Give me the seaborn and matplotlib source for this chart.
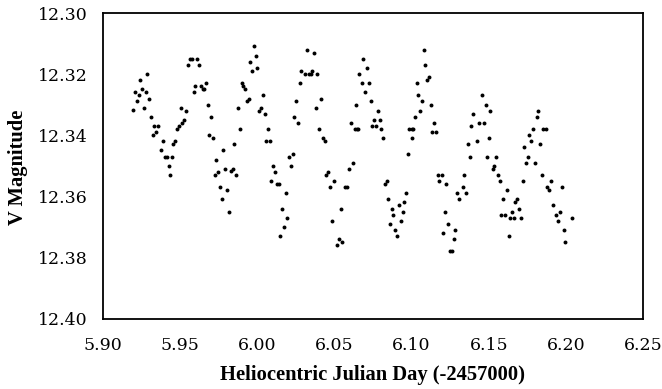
import matplotlib
matplotlib.use("Agg")
import matplotlib.pyplot as plt
import seaborn as sns
import pandas as pd

hjd = [
    5.9194, 5.9207, 5.9220, 5.9233, 5.9242, 5.9255, 5.9266, 5.9277, 5.9287, 5.9298,
    5.9311, 5.9322, 5.9332, 5.9345, 5.9358, 5.9378, 5.9391, 5.9404, 5.9417, 5.9426,
    5.9436, 5.9449, 5.9456, 5.9469, 5.9482, 5.9493, 5.9506, 5.9514, 5.9527, 5.9540,
    5.9549, 5.9562, 5.9575, 5.9588, 5.9598, 5.9609, 5.9622, 5.9635, 5.9646, 5.9657,
    5.9668, 5.9679, 5.9689, 5.9700, 5.9713, 5.9724, 5.9734, 5.9747, 5.9758, 5.9771,
    5.9780, 5.9791, 5.9804, 5.9815,
    5.9830, 5.9841, 5.9864, 5.9851, 5.9873, 5.9886, 5.9899, 5.9909, 5.9918, 5.9931,
    5.9944, 5.9955, 5.9966, 5.9977, 5.9990, 6.0000, 6.0011, 6.0022, 6.0035, 6.0048,
    6.0056, 6.0069, 6.0080, 6.0091, 6.0102, 6.0115, 6.0126, 6.0141, 6.0147, 6.0160,
    6.0171, 6.0184, 6.0195, 6.0206, 6.0218, 6.0229, 6.0240, 6.0253, 6.0264, 6.0277,
    6.0285, 6.0309, 6.0322, 6.0333, 6.0346, 6.0357, 6.0370, 6.0379, 6.0389, 6.0402,
    6.0413, 6.0424, 6.0437, 6.0447, 6.0456, 6.0471, 6.0484, 6.0495, 6.0515, 6.0528,
    6.0541, 6.0551, 6.0570, 6.0583, 6.0596, 6.0607, 6.0620, 6.0631, 6.0643, 6.0644,
    6.0655, 6.0662,
    6.0677, 6.0687, 6.0698, 6.0711, 6.0724, 6.0735, 6.0743, 6.0756, 6.0769, 6.0780,
    6.0793, 6.0804, 6.0815, 6.0826, 6.0839, 6.0849, 6.0860, 6.0871, 6.0882, 6.0894,
    6.0907, 6.0918, 6.0929, 6.0942, 6.0953, 6.0962, 6.0975, 6.0985, 6.1001, 6.1001,
    6.1011, 6.1020, 6.1033, 6.1042, 6.1053, 6.1066, 6.1079, 6.1089, 6.1100, 6.1111,
    6.1124, 6.1134, 6.1145, 6.1158, 6.1169, 6.1180, 6.1195, 6.1206, 6.1217, 6.1225,
    6.1238, 6.1251, 6.1264, 6.1273, 6.1283, 6.1296, 6.1309, 6.1331, 6.1342, 6.1353,
    6.1364, 6.1377, 6.1387, 6.1400, 6.1422, 6.1435, 6.1456, 6.1467, 6.1480, 6.1491,
    6.1500, 6.1508,
    6.1526, 6.1536, 6.1547, 6.1560, 6.1571, 6.1581, 6.1593, 6.1605, 6.1616, 6.1629,
    6.1640, 6.1651, 6.1664, 6.1672, 6.1685, 6.1698, 6.1709, 6.1720, 6.1731, 6.1744,
    6.1755, 6.1763, 6.1776, 6.1789, 6.1800, 6.1811, 6.1821, 6.1834, 6.1845, 6.1854,
    6.1869, 6.1880, 6.1891, 6.1902, 6.1915, 6.1938, 6.1949, 6.1962, 6.1973, 6.1986,
    6.1994, 6.2040,
]

vmag = [
    12.3318, 12.3260, 12.3289, 12.3269, 12.3220, 12.3250, 12.3310, 12.3260, 12.3200, 12.3281,
    12.3339, 12.3400, 12.3370, 12.3391, 12.3370, 12.3449, 12.3420, 12.3470, 12.3470, 12.3500,
    12.3530, 12.3470, 12.3430, 12.3420, 12.3380, 12.3370, 12.3310, 12.3359, 12.3349, 12.3320,
    12.3170, 12.3151, 12.3151, 12.3260, 12.3240, 12.3151, 12.3170, 12.3240, 12.3250, 12.3250,
    12.3229, 12.3300, 12.3400, 12.3339, 12.3410, 12.3530, 12.3480, 12.3519, 12.3571, 12.3610,
    12.3449, 12.3510, 12.3580, 12.3650,
    12.3516, 12.3510, 12.3530, 12.3430, 12.3310, 12.3380, 12.3229, 12.3239, 12.3250, 12.3289,
    12.3281, 12.3159, 12.3190, 12.3109, 12.3140, 12.3179, 12.3320, 12.3310, 12.3269, 12.3330,
    12.3420, 12.3380, 12.3420, 12.3550, 12.3500, 12.3520, 12.3560, 12.3560, 12.3731, 12.3641,
    12.3700, 12.3589, 12.3670, 12.3470, 12.3500, 12.3461, 12.3339, 12.3289, 12.3360, 12.3229,
    12.3190, 12.3199, 12.3120, 12.3199, 12.3199, 12.3190, 12.3130, 12.3310, 12.3199, 12.3380,
    12.3281, 12.3410, 12.3420, 12.3530, 12.3520, 12.3571, 12.3680, 12.3550, 12.3760, 12.3740,
    12.3641, 12.3751, 12.3571, 12.3571, 12.3510, 12.3360, 12.3490, 12.3380, 12.3300, 12.3380,
    12.3380, 12.3200,
    12.3229, 12.3151, 12.3260, 12.3179, 12.3229, 12.3289, 12.3370, 12.3350, 12.3370, 12.3320,
    12.3350, 12.3380, 12.3409, 12.3560, 12.3550, 12.3610, 12.3691, 12.3641, 12.3661, 12.3710,
    12.3731, 12.3629, 12.3680, 12.3650, 12.3620, 12.3589, 12.3461, 12.3380, 12.3380, 12.3409,
    12.3380, 12.3339, 12.3229, 12.3269, 12.3320, 12.3289, 12.3120, 12.3170, 12.3219, 12.3210,
    12.3300, 12.3390, 12.3360, 12.3390, 12.3530, 12.3550, 12.3530, 12.3720, 12.3650, 12.3560,
    12.3691, 12.3780, 12.3780, 12.3741, 12.3710, 12.3589, 12.3610, 12.3571, 12.3530, 12.3589,
    12.3430, 12.3470, 12.3370, 12.3330, 12.3420, 12.3360, 12.3269, 12.3360, 12.3300, 12.3470,
    12.3409, 12.3320,
    12.3510, 12.3500, 12.3470, 12.3530, 12.3550, 12.3661, 12.3610, 12.3661, 12.3580, 12.3731,
    12.3670, 12.3650, 12.3670, 12.3620, 12.3610, 12.3641, 12.3670, 12.3550, 12.3440, 12.3490,
    12.3470, 12.3399, 12.3420, 12.3380, 12.3490, 12.3339, 12.3320, 12.3430, 12.3530, 12.3380,
    12.3380, 12.3571, 12.3580, 12.3550, 12.3629, 12.3661, 12.3680, 12.3650, 12.3571, 12.3710,
    12.3751, 12.3670,
]

x_ticks = [5.90, 5.95, 6.00, 6.05, 6.10, 6.15, 6.20, 6.25]
y_ticks = [12.30, 12.32, 12.34, 12.36, 12.38, 12.40]
x_label = "Heliocentric Julian Day (-2457000)"
y_label = "V Magnitude"

df = pd.DataFrame({"hjd": hjd, "vmag": vmag})

sns.set_style("white")
plt.rcParams["font.family"] = ["DejaVu Serif"]

fig = plt.figure(figsize=(6.62, 3.89), dpi=100)
ax = fig.add_axes([103 / 662, 1 - 318.5 / 389, 540 / 662, 305.5 / 389])

sns.scatterplot(data=df, x="hjd", y="vmag", ax=ax, color="black", s=8,
                linewidth=0, legend=False)

ax.set_xlim(5.90, 6.25)
ax.set_ylim(12.40, 12.30)
ax.set_xticks(x_ticks)
ax.set_yticks(y_ticks)
ax.set_xticklabels([f"{v:.2f}" for v in x_ticks])
ax.set_yticklabels([f"{v:.2f}" for v in y_ticks])

for s in ax.spines.values():
    s.set_color("black")
    s.set_linewidth(1.3)

ax.tick_params(axis="both", direction="in", length=5, width=1.2, color="black",
               labelsize=12.5, labelcolor="black")
ax.tick_params(axis="y", pad=11)
ax.tick_params(axis="x", pad=13.5)

label_font = dict(family=["Liberation Serif", "DejaVu Serif"], size=14.8,
                  weight="bold", color="black")
ax.set_xlabel(x_label, fontdict=label_font, va="center")
ax.set_ylabel(y_label, fontdict=label_font, va="center")
ax.xaxis.set_label_coords(0.5, (318.5 - 375) / 305.5)
ax.yaxis.set_label_coords((18.5 - 103) / 540, 0.496)

fig.savefig("out.png", dpi=100)
